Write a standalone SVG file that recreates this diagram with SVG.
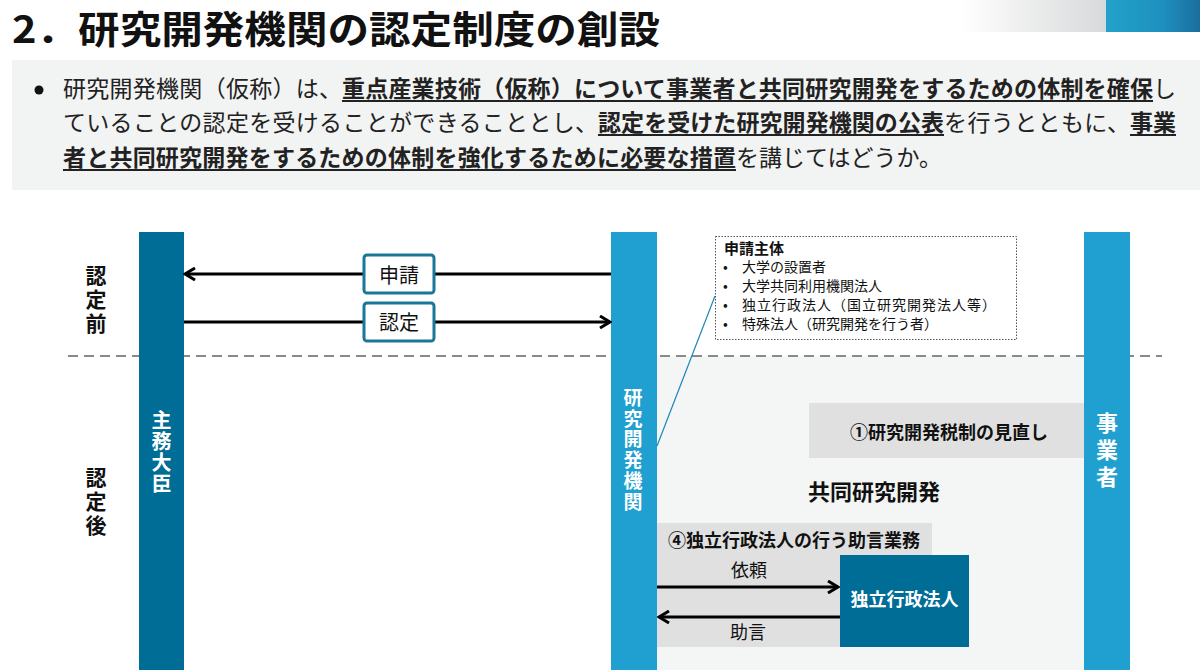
<svg xmlns="http://www.w3.org/2000/svg" width="1200" height="670" viewBox="0 0 1200 670">
<defs>
<linearGradient id="gfade" x1="0" y1="0" x2="1" y2="0">
<stop offset="0" stop-color="#ffffff"/>
<stop offset="1" stop-color="#d8d9da"/>
</linearGradient>
<linearGradient id="gblue" x1="0" y1="0" x2="1" y2="0">
<stop offset="0" stop-color="#22a2ca"/>
<stop offset="0.6" stop-color="#1e90bf"/>
<stop offset="1" stop-color="#1a6e9e"/>
</linearGradient>
<marker id="arr" viewBox="0 0 14 14" markerWidth="14" markerHeight="14" refX="12" refY="7" orient="auto" markerUnits="userSpaceOnUse">
<path d="M2,1 L12,7 L2,13" fill="none" stroke="#000" stroke-width="3" stroke-linejoin="miter"/>
</marker>
<style>
text{font-family:"Noto Sans CJK JP","Noto Sans",sans-serif;}
.b{font-weight:700;}
.body{font-size:23px;fill:#222;}
.vert{writing-mode:vertical-rl;text-orientation:upright;}
.vt{font-size:21px;font-weight:700;fill:#111;letter-spacing:3px;}
.vw{font-weight:700;fill:#fff;}
.dark{fill:#006d96;}
.light{fill:#1fa0d0;}
.lbl{fill:#fff;stroke:#1a7896;stroke-width:3;}
.conn{stroke:#000;stroke-width:3;fill:none;}
.ul{stroke:#222;stroke-width:2;}
</style>
</defs>
<rect x="0" y="0" width="1200" height="670" fill="#ffffff"/>

<g id="header">
<rect x="960" y="0" width="146" height="32" fill="url(#gfade)"/>
<rect x="1106" y="0" width="94" height="32" fill="url(#gblue)"/>
<text x="12" y="43" class="b" font-size="38" fill="#111" textLength="648" lengthAdjust="spacingAndGlyphs">2．研究開発機関の認定制度の創設</text>
</g>

<g id="summary">
<rect x="12" y="60" width="1188" height="130" fill="#f2f3f3"/>
<circle cx="39" cy="90" r="4.5" fill="#111"/>
<text class="body" x="63" y="97" textLength="279">研究開発機関（仮称）は、</text>
<text class="body b" x="342" y="97" textLength="811">重点産業技術（仮称）について事業者と共同研究開発をするための体制を確保</text>
<text class="body" x="1153" y="97">し</text>
<line class="ul" x1="342" y1="101" x2="1153" y2="101"/>
<text class="body" x="63" y="131" textLength="535">ていることの認定を受けることができることとし、</text>
<text class="body b" x="598" y="131" textLength="346">認定を受けた研究開発機関の公表</text>
<text class="body" x="944" y="131" textLength="186">を行うとともに、</text>
<text class="body b" x="1130" y="131" textLength="46">事業</text>
<line class="ul" x1="598" y1="135" x2="944" y2="135"/>
<line class="ul" x1="1130" y1="135" x2="1176" y2="135"/>
<text class="body b" x="63" y="166" textLength="673">者と共同研究開発をするための体制を強化するために必要な措置</text>
<text class="body" x="736" y="166" textLength="206">を講じてはどうか。</text>
<line class="ul" x1="63" y1="170" x2="736" y2="170"/>
</g>

<g id="after-area">
<rect x="657" y="356" width="427" height="314" fill="#f4f5f5"/>
<line x1="68" y1="356" x2="1162" y2="356" stroke="#8a8a8a" stroke-width="2" stroke-dasharray="10,6"/>
</g>

<g id="phase-labels">
<text class="vt vert" x="96" y="265">認定前</text>
<text class="vt vert" x="96" y="467">認定後</text>
</g>

<g id="minister">
<rect x="139" y="232" width="45" height="438" class="dark"/>
<text class="vw vert" x="161.5" y="410" font-size="20" letter-spacing="1">主務大臣</text>
</g>

<g id="rd-org">
<rect x="611" y="232" width="46" height="438" class="light"/>
<text class="vw vert" x="633" y="388" font-size="19" letter-spacing="1.8">研究開発機関</text>
</g>

<g id="business">
<rect x="1084" y="232" width="46" height="438" class="light"/>
<text class="vw vert" x="1107" y="412" font-size="22" letter-spacing="5">事業者</text>
</g>

<g id="connectors">
<line class="conn" x1="611" y1="274" x2="185" y2="274" marker-end="url(#arr)"/>
<line class="conn" x1="184" y1="322" x2="610" y2="322" marker-end="url(#arr)"/>
<line x1="715" y1="296" x2="657" y2="446" stroke="#1f86b8" stroke-width="1.2"/>
</g>

<g id="label-shinsei">
<rect x="364" y="255" width="70" height="38" rx="3" class="lbl"/>
<text x="399" y="283" font-size="20" text-anchor="middle" fill="#111">申請</text>
</g>
<g id="label-nintei">
<rect x="364" y="303" width="70" height="38" rx="3" class="lbl"/>
<text x="399" y="330" font-size="20" text-anchor="middle" fill="#111">認定</text>
</g>

<g id="applicants">
<rect x="715.5" y="236.5" width="301" height="103" fill="#fff" stroke="#555" stroke-width="1" stroke-dasharray="1.5,1.5"/>
<text x="724" y="254" font-size="15" class="b" fill="#111">申請主体</text>
<g font-size="14" fill="#111">
<text x="723" y="272">•</text><text x="742" y="272">大学の設置者</text>
<text x="723" y="291">•</text><text x="742" y="291">大学共同利用機関法人</text>
<text x="723" y="310">•</text><text x="742" y="310" textLength="254">独立行政法人（国立研究開発法人等）</text>
<text x="723" y="329">•</text><text x="742" y="329">特殊法人（研究開発を行う者）</text>
</g>
</g>

<g id="tax">
<rect x="809" y="403" width="275" height="55" fill="#e0e0e0"/>
<text x="949" y="439" font-size="18" class="b" text-anchor="middle" fill="#111">①研究開発税制の見直し</text>
</g>

<text id="joint-rd" x="874" y="500" font-size="22" class="b" text-anchor="middle" fill="#111">共同研究開発</text>

<g id="advice">
<rect x="657" y="523" width="275" height="124" fill="#e0e0e0"/>
<text x="794" y="547" font-size="18" class="b" text-anchor="middle" fill="#111">④独立行政法人の行う助言業務</text>
<line class="conn" stroke-width="3.5" x1="657" y1="587" x2="838" y2="587" marker-end="url(#arr)"/>
<line class="conn" stroke-width="3.5" x1="840" y1="617" x2="659" y2="617" marker-end="url(#arr)"/>
<text x="749" y="577" font-size="18" text-anchor="middle" fill="#111">依頼</text>
<text x="748" y="639" font-size="18" text-anchor="middle" fill="#111">助言</text>
</g>

<g id="iai">
<rect x="840" y="555" width="129" height="92" class="dark"/>
<text x="904.5" y="606" font-size="18" class="b" text-anchor="middle" fill="#fff">独立行政法人</text>
</g>
</svg>
